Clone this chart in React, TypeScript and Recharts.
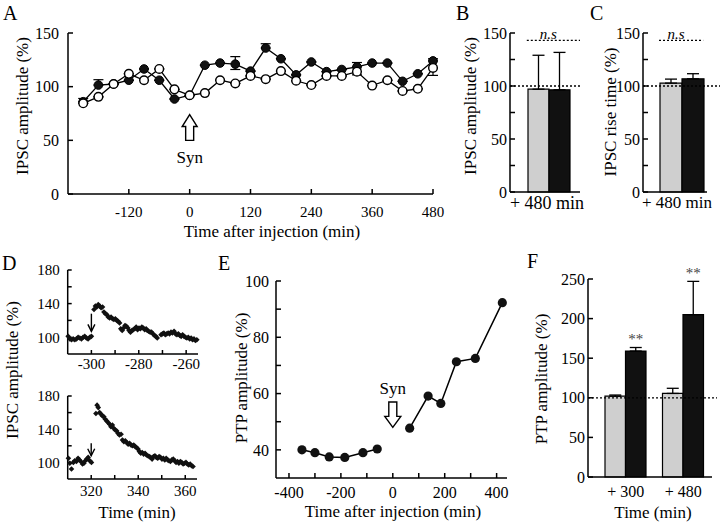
import React from "react";
import {
  ComposedChart,
  ScatterChart,
  Line,
  Bar,
  Scatter,
  XAxis,
  YAxis,
  ErrorBar,
  ReferenceLine,
  ReferenceDot,
} from "recharts";

const W = 720;
const H = 526;
const FONT = '"Liberation Serif", "Times New Roman", serif';

// ---- A: IPSC amplitude vs time after injection
const aTime = [-210, -180, -150, -120, -90, -60, -30, 0, 30, 60, 90, 120, 150, 180, 210, 240, 270, 300, 330, 360, 390, 420, 450, 480];
const aFilled = [86, 101.5, 102.5, 106, 116.5, 106, 88.5, 92, 120, 122, 121, 114.5, 136, 126, 111, 123, 114, 116, 118.5, 122, 122, 105, 112, 124];
const aOpen = [84.5, 90.5, 102.5, 112, 106, 116.5, 97.5, 92, 94, 106, 103, 110, 107, 114.5, 105.5, 101.5, 110, 110, 114, 101, 106, 96, 98, 117.5];
const aFilledErr = [3, 5, 0, 0, 0, 0, 0, 0, 0, 0, 7, 0, 4, 0, 0, 0, 0, 0, 4, 0, 0, 0, 0, 2];
const aFilledErrLow = [0, 0, 0, 0, 0, 0, 0, 0, 0, 0, 5, 0, 0, 0, 0, 0, 0, 0, 0, 0, 0, 0, 0, 0];
const aOpenErrLow = [0, 0, 0, 0, 0, 0, 0, 0, 0, 0, 0, 0, 0, 0, 0, 0, 0, 0, 3, 0, 0, 0, 0, 7];
const aXTicks = [-120, 0, 120, 240, 360, 480];

// ---- B / C: +480 min bars
const bcGroup = ["+ 480 min"];
const bControl = [97];
const bSyn = [96.4];
const bControlErr = [32];
const bSynErr = [35.3];
const cControl = [102.7];
const cSyn = [106.8];
const cControlErr = [3.8];
const cSynErr = [4.8];
const nsLevel = 143;

// ---- D: single experiments (time, amplitude)
const dTopTime = [-309.8, -309.1, -308.4, -307.7, -307.0, -306.3, -305.6, -304.9, -304.2, -303.5, -302.8, -302.1, -301.4, -300.7, -300.0,
  -298.9, -298.3, -297.7, -297.1, -296.5, -295.9, -295.3, -294.7, -294.1, -293.5, -292.9, -292.3, -291.7, -291.1, -290.5,
  -289.9, -289.3, -288.7, -288.1, -287.6, -287.0, -286.4, -285.8, -285.2, -284.6, -284.1, -283.5, -282.9, -282.3, -281.7,
  -281.1, -280.5, -279.9, -279.3, -278.7, -278.1, -277.5, -276.9, -276.4, -275.8, -275.2, -274.6, -274.0, -273.4, -272.8,
  -272.2, -270.6, -270.0, -269.4, -268.8, -268.2, -267.6, -267.0, -266.4, -265.8, -265.1, -264.5, -263.9, -263.3, -262.7,
  -262.1, -261.5, -260.9, -260.3, -259.7, -259.1, -258.5, -257.9, -257.3, -256.7, -256.1, -255.5];
const dTopValue = [101, 98, 97, 98, 97, 98, 100, 99, 98, 100, 101, 99, 98, 100, 101,
  133, 137, 136, 139, 137, 135, 136, 130, 128, 127, 124, 123, 124, 122, 121,
  122, 120, 119, 117, 110, 108, 111, 114, 113, 111, 108, 106, 108, 109, 110,
  112, 109, 111, 110, 112, 111, 109, 110, 108, 107, 106, 106, 104, 102, 101,
  99, 103, 104, 105, 103, 104, 105, 104, 106, 105, 107, 104, 103, 104, 102,
  101, 103, 101, 100, 99, 100, 98, 99, 97, 98, 96, 97];
const dBotTime = [310.3, 310.9, 311.6, 312.4, 313.0, 313.7, 314.4, 315.0, 315.6, 316.3, 316.9, 317.5, 318.1, 318.7, 319.4, 320.1,
  322.0, 322.5, 323.0, 323.6, 324.2, 324.8, 325.4, 326.0, 326.6, 327.2, 327.8, 328.4, 329.0, 329.6, 330.2,
  330.8, 331.4, 332.0, 332.7, 333.3, 333.9, 334.5, 335.1, 335.7, 336.3, 336.9, 337.5, 338.1, 338.7, 339.3,
  339.9, 340.5, 341.1, 341.7, 342.3, 342.9, 343.5, 344.1, 344.7, 345.3, 345.9, 346.5, 347.1, 347.7, 348.3,
  348.9, 349.5, 350.1, 350.7, 351.3, 351.9, 352.5, 353.1, 353.7, 354.3, 354.9, 355.5, 356.1, 356.7, 357.3,
  357.9, 358.5, 359.1, 359.7, 360.3, 360.9, 361.5, 362.1, 362.7, 363.3];
const dBotValue = [105, 99, 92, 100, 102, 101, 105, 103, 101, 98, 99, 102, 104, 106, 102, 100,
  159, 169, 166, 160, 158, 156, 155, 152, 150, 148, 146, 143, 145, 141, 139,
  138, 135, 133, 134, 127, 125, 126, 124, 122, 123, 121, 120, 121, 119, 118,
  116, 113, 111, 112, 110, 111, 109, 108, 107, 106, 104, 107, 108, 106, 105,
  107, 106, 104, 105, 103, 105, 103, 102, 101, 103, 104, 102, 100, 101, 99,
  101, 100, 98, 99, 100, 98, 97, 98, 96, 95];

// ---- E: PTP amplitude vs time after injection
const ePreTime = [-350, -300, -245, -185, -115, -60];
const ePreValue = [40, 39, 37.5, 37.3, 39, 40.3];
const ePostTime = [65, 136, 185, 245, 318, 422];
const ePostValue = [47.7, 59.1, 56.5, 71.3, 72.5, 92.3];

// ---- F: PTP amplitude at +300 / +480 min
const fGroup = ["+ 300", "+ 480"];
const fControl = [102, 105.5];
const fSyn = [159, 205];
const fControlErr = [1.5, 6.5];
const fSynErr = [4.5, 42];

const aData = aTime.map((t, i) => ({
  t,
  filled: aFilled[i],
  open: aOpen[i],
  filledErr: [aFilledErrLow[i], aFilledErr[i]],
  openErr: [aOpenErrLow[i], 0],
}));
const bars = (ctrl: number[], syn: number[], ce: number[], se: number[], groups: string[]) =>
  groups.map((g, i) => ({ g, ctrl: ctrl[i], syn: syn[i], ctrlErr: [0, ce[i]], synErr: [0, se[i]] }));
const bData = bars(bControl, bSyn, bControlErr, bSynErr, bcGroup);
const cData = bars(cControl, cSyn, cControlErr, cSynErr, bcGroup);
const fData = bars(fControl, fSyn, fControlErr, fSynErr, fGroup);
const dTop = dTopTime.map((t, i) => ({ t, v: dTopValue[i] }));
const dBot = dBotTime.map((t, i) => ({ t, v: dBotValue[i] }));
const ePre = ePreTime.map((t, i) => ({ t, v: ePreValue[i] }));
const ePost = ePostTime.map((t, i) => ({ t, v: ePostValue[i] }));

// plot box in page pixels -> chart margin
const frame = (l: number, t: number, r: number, b: number, yW = 40, xH = 30) => ({
  left: l - yW,
  top: t,
  right: W - r,
  bottom: H - b - xH,
});

const tickStyle = (size = 15) => ({ fill: "#000", fontSize: size, fontFamily: FONT });
const axisLine = { stroke: "#000", strokeWidth: 1.5 };
const every = (step: number, from = 0) => (v: number) => ((v - from) % step === 0 ? String(v) : "");
const layer: React.CSSProperties = { position: "absolute", left: 0, top: 0 };

const catTick = (size: number, dx = 0) => (p: any) => (
  <text x={p.x + dx} y={p.y} dy="0.71em" textAnchor="middle" fontSize={size} fontFamily={FONT} fill="#000" style={{ whiteSpace: "pre" }}>
    {p.payload.value}
  </text>
);

const blockArrow = (dir: "up" | "down", label: string) => (p: any) => {
  const x = p.x1;
  const top = Math.min(p.y1, p.y2);
  const bot = Math.max(p.y1, p.y2);
  const pts =
    dir === "up"
      ? [[x, top], [x + 7.5, top + 12], [x + 4, top + 12], [x + 4, bot], [x - 4, bot], [x - 4, top + 12], [x - 7.5, top + 12]]
      : [[x - 4, top], [x + 4, top], [x + 4, bot - 11], [x + 8, bot - 11], [x, bot], [x - 8, bot - 11], [x - 4, bot - 11]];
  return (
    <g>
      <polygon points={pts.map((q) => q.join(",")).join(" ")} fill="#fff" stroke="#000" strokeWidth={1.4} />
      <text x={x} y={dir === "up" ? bot + 23 : top - 8} textAnchor="middle" fontSize={17} fontFamily={FONT} fill="#000">
        {label}
      </text>
    </g>
  );
};

const thinArrow = (p: any) => (
  <g stroke="#000" strokeWidth={1.4} fill="none">
    <line x1={p.x1} y1={p.y1} x2={p.x2} y2={p.y2} />
    <path d={`M${p.x2 - 3.5},${p.y2 - 7} L${p.x2},${p.y2} L${p.x2 + 3.5},${p.y2 - 7}`} />
  </g>
);

// dotted horizontal line, optionally running past the plot's right edge
const dotted = (extra: number) => (p: any) => (
  <line x1={p.x1} y1={p.y1} x2={p.x2 + extra} y2={p.y2} stroke="#000" strokeWidth={1.3} strokeDasharray="2 2" />
);

// "n.s" marker over a fraction of the plot width
const nsLine = (f0: number, f1: number) => (p: any) => {
  const a = p.x1 + (p.x2 - p.x1) * f0;
  const b = p.x1 + (p.x2 - p.x1) * f1;
  return (
    <g>
      <line x1={a} y1={p.y1} x2={b} y2={p.y1} stroke="#000" strokeWidth={1.3} strokeDasharray="2 2" />
      <text x={(a + b) / 2 - 5} y={p.y1 - 1} textAnchor="middle" fontSize={15} fontStyle="italic" fontFamily={FONT} fill="#000">
        n.s
      </text>
    </g>
  );
};

const diamond = (p: any) => (
  <path d={`M${p.cx},${p.cy - 2.8} L${p.cx + 2.8},${p.cy} L${p.cx},${p.cy + 2.8} L${p.cx - 2.8},${p.cy} Z`} fill="#111" />
);
const bigDot = (p: any) => <circle cx={p.cx} cy={p.cy} r={4.6} fill="#111" />;
const stars = (p: any) => (
  <text x={p.cx + 10} y={p.cy + 7} textAnchor="middle" fontSize={15} fontFamily={FONT} fill="#444">
    **
  </text>
);

function BarPanel({ data, box, pad, barSize, ns, extra, labelDx, labelSize }: any) {
  return (
    <div style={layer}>
      <ComposedChart width={W} height={H} data={data} margin={frame(box[0], box[1], box[2], box[3])} barGap={0}>
        <XAxis dataKey="g" type="category" padding={{ left: pad, right: 0 }} tickLine={false} tickSize={0} tickMargin={4} axisLine={axisLine} tick={catTick(labelSize, labelDx)} height={30} />
        <YAxis type="number" domain={[0, 150]} ticks={[0, 25, 50, 75, 100, 125, 150]} tickFormatter={every(50)} interval={0} width={40} tickSize={-5} tickMargin={8} axisLine={axisLine} tickLine={axisLine} tick={tickStyle(16)} />
        <ReferenceLine y={100} shape={dotted(extra)} />
        <ReferenceLine y={nsLevel} shape={nsLine(ns[0], ns[1])} />
        <Bar dataKey="ctrl" fill="#cfcfcf" stroke="#000" strokeWidth={1.2} barSize={barSize} isAnimationActive={false}>
          <ErrorBar dataKey="ctrlErr" width={6} stroke="#000" strokeWidth={1.3} direction="y" />
        </Bar>
        <Bar dataKey="syn" fill="#111" stroke="#000" strokeWidth={1.2} barSize={barSize} isAnimationActive={false}>
          <ErrorBar dataKey="synErr" width={6} stroke="#000" strokeWidth={1.3} direction="y" />
        </Bar>
      </ComposedChart>
    </div>
  );
}

export default function App() {
  return (
    <div style={{ position: "absolute", left: 0, top: 0, width: W, height: H, background: "#fff", fontFamily: FONT }}>
      {/* A */}
      <div style={layer}>
        <ComposedChart width={W} height={H} data={aData} margin={frame(68, 33, 433, 194)}>
          <XAxis dataKey="t" type="number" domain={[-240, 480]} ticks={aXTicks} interval={0} height={30} tickSize={-5} tickMargin={17} axisLine={axisLine} tickLine={axisLine} tick={tickStyle(15)} />
          <YAxis type="number" domain={[0, 150]} ticks={[0, 50, 100, 150]} interval={0} width={40} tickSize={-5} tickMargin={14} axisLine={axisLine} tickLine={axisLine} tick={tickStyle(16)} />
          <ReferenceLine segment={[{ x: 0, y: 74 }, { x: 0, y: 50 }]} shape={blockArrow("up", "Syn")} />
          <Line dataKey="filled" type="linear" stroke="#000" strokeWidth={1.3} dot={{ r: 4.3, fill: "#111", stroke: "#000", strokeWidth: 1 }} isAnimationActive={false}>
            <ErrorBar dataKey="filledErr" width={5} stroke="#000" strokeWidth={1.2} direction="y" />
          </Line>
          <Line dataKey="open" type="linear" stroke="#000" strokeWidth={1.3} dot={{ r: 4.3, fill: "#fff", stroke: "#000", strokeWidth: 1.4 }} isAnimationActive={false}>
            <ErrorBar dataKey="openErr" width={5} stroke="#000" strokeWidth={1.2} direction="y" />
          </Line>
        </ComposedChart>
      </div>

      {/* B, C */}
      <BarPanel data={bData} box={[510, 33, 580, 192]} pad={8} barSize={21} ns={[0.24, 1]} extra={0} labelDx={-2} labelSize={18} />
      <BarPanel data={cData} box={[643, 33, 707, 192]} pad={14} barSize={22} ns={[0.25, 0.94]} extra={13} labelDx={-5} labelSize={17} />

      {/* D top */}
      <div style={layer}>
        <ScatterChart width={W} height={H} margin={frame(67.7, 270, 198, 354)}>
          <XAxis dataKey="t" type="number" domain={[-310, -255]} ticks={[-300, -290, -280, -270, -260]} tickFormatter={every(20)} interval={0} height={30} tickSize={-4} tickMargin={8} axisLine={axisLine} tickLine={axisLine} tick={tickStyle(15)} />
          <YAxis dataKey="v" type="number" domain={[80, 180]} ticks={[100, 120, 140, 160, 180]} tickFormatter={every(40, 100)} interval={0} width={40} tickSize={-4} tickMargin={12} axisLine={axisLine} tickLine={axisLine} tick={tickStyle(15)} />
          <ReferenceLine segment={[{ x: -300, y: 128 }, { x: -300, y: 107 }]} shape={thinArrow} />
          <Scatter data={dTop} shape={diamond} isAnimationActive={false} />
        </ScatterChart>
      </div>
      {/* D bottom */}
      <div style={layer}>
        <ScatterChart width={W} height={H} margin={frame(67.7, 396, 197, 479)}>
          <XAxis dataKey="t" type="number" domain={[310, 365]} ticks={[320, 330, 340, 350, 360]} tickFormatter={every(20)} interval={0} height={30} tickSize={-4} tickMargin={10} axisLine={axisLine} tickLine={axisLine} tick={tickStyle(15)} />
          <YAxis dataKey="v" type="number" domain={[80, 180]} ticks={[100, 120, 140, 160, 180]} tickFormatter={every(40, 100)} interval={0} width={40} tickSize={-4} tickMargin={12} axisLine={axisLine} tickLine={axisLine} tick={tickStyle(15)} />
          <ReferenceLine segment={[{ x: 320, y: 123 }, { x: 320, y: 108 }]} shape={thinArrow} />
          <Scatter data={dBot} shape={diamond} isAnimationActive={false} />
        </ScatterChart>
      </div>

      {/* E */}
      <div style={layer}>
        <ScatterChart width={W} height={H} margin={frame(276, 281, 507, 478)}>
          <XAxis dataKey="t" type="number" domain={[-450, 440]} ticks={[-400, -300, -200, -100, 0, 100, 200, 300, 400]} tickFormatter={every(200)} interval={0} height={30} tickSize={-5} tickMargin={14} axisLine={axisLine} tickLine={axisLine} tick={tickStyle(16)} />
          <YAxis dataKey="v" type="number" domain={[30, 100]} ticks={[40, 50, 60, 70, 80, 90, 100]} tickFormatter={every(20)} interval={0} width={40} tickSize={-5} tickMargin={12} axisLine={axisLine} tickLine={axisLine} tick={tickStyle(16)} />
          <ReferenceLine segment={[{ x: 0, y: 57 }, { x: 0, y: 48 }]} shape={blockArrow("down", "Syn")} />
          <Scatter data={ePre} shape={bigDot} line={{ stroke: "#000", strokeWidth: 1.5 }} lineType="joint" isAnimationActive={false} />
          <Scatter data={ePost} shape={bigDot} line={{ stroke: "#000", strokeWidth: 1.5 }} lineType="joint" isAnimationActive={false} />
        </ScatterChart>
      </div>

      {/* F */}
      <div style={layer}>
        <ComposedChart width={W} height={H} data={fData} margin={frame(588, 279, 712, 477)} barGap={0}>
          <XAxis dataKey="g" type="category" padding={{ left: 9, right: 0 }} tickLine={false} tickSize={0} tickMargin={9} axisLine={axisLine} tick={catTick(16)} height={30} />
          <YAxis type="number" domain={[0, 250]} ticks={[0, 50, 100, 150, 200, 250]} interval={0} width={40} tickSize={-5} tickMargin={8} axisLine={axisLine} tickLine={axisLine} tick={tickStyle(16)} />
          <ReferenceLine y={100} shape={dotted(5)} />
          <Bar dataKey="ctrl" fill="#cfcfcf" stroke="#000" strokeWidth={1.2} barSize={20.5} isAnimationActive={false}>
            <ErrorBar dataKey="ctrlErr" width={6} stroke="#000" strokeWidth={1.3} direction="y" />
          </Bar>
          <Bar dataKey="syn" fill="#111" stroke="#000" strokeWidth={1.2} barSize={20.5} isAnimationActive={false}>
            <ErrorBar dataKey="synErr" width={6} stroke="#000" strokeWidth={1.3} direction="y" />
          </Bar>
          {fGroup.map((g, i) => (
            <ReferenceDot key={g} x={g} y={fSyn[i] + fSynErr[i] + 13} r={0} ifOverflow="visible" shape={stars} />
          ))}
        </ComposedChart>
      </div>

      {/* titles and panel letters */}
      <svg width={W} height={H} style={{ ...layer, pointerEvents: "none" }} fontFamily={FONT} fill="#000">
        <g fontSize={20}>
          <text x={3} y={20}>A</text>
          <text x={456} y={20}>B</text>
          <text x={590} y={20}>C</text>
          <text x={2} y={270}>D</text>
          <text x={218} y={270}>E</text>
          <text x={527} y={268}>F</text>
        </g>
        <g fontSize={17} textAnchor="middle" style={{ whiteSpace: "pre" }}>
          <text transform="translate(28,106) rotate(-90)">IPSC amplitude (%)</text>
          <text x={272} y={237}>Time after injection (min)</text>
          <text transform="translate(476,106) rotate(-90)">IPSC amplitude  (%)</text>
          <text transform="translate(616,112) rotate(-90)">IPSC rise time (%)</text>
          <text transform="translate(18,370) rotate(-90)">IPSC  amplitude (%)</text>
          <text x={137} y={518}>Time (min)</text>
          <text transform="translate(247,378) rotate(-90)">PTP amplitude (%)</text>
          <text x={393} y={517}>Time after injection (min)</text>
          <text transform="translate(547,379) rotate(-90)">PTP amplitude  (%)</text>
          <text x={653} y={518}>Time (min)</text>
        </g>
      </svg>
    </div>
  );
}
